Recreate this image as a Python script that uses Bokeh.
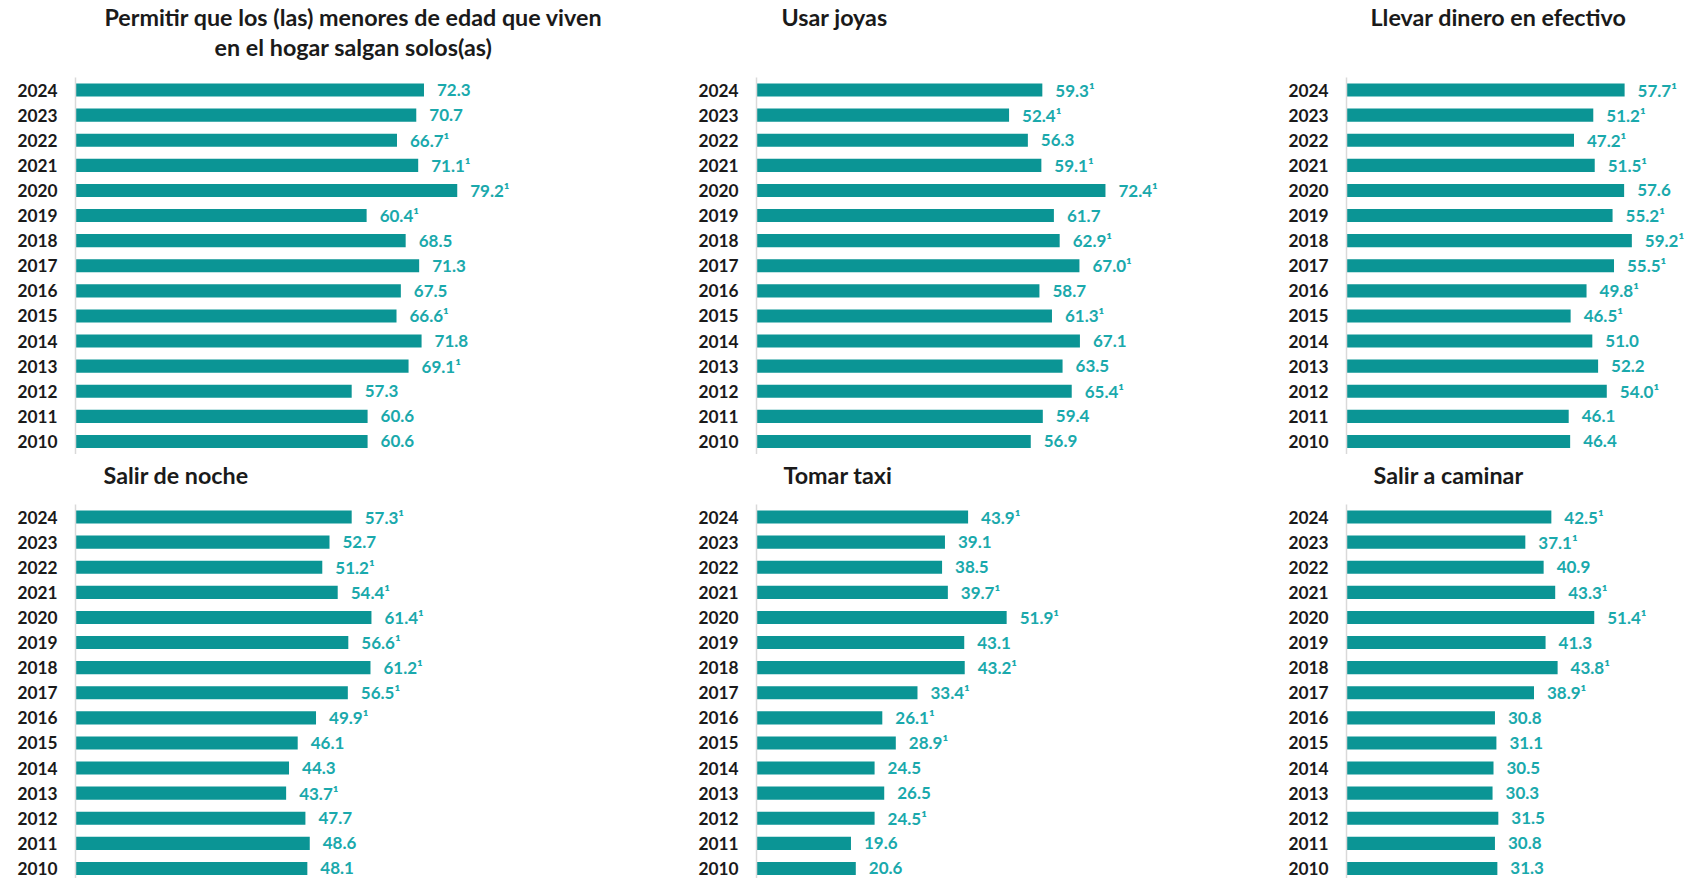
from bokeh.plotting import figure
from bokeh.models import Range1d, FixedTicker, ColumnDataSource, LabelSet
from bokeh.layouts import column, row
from bokeh.core.properties import value
from bokeh.embed import file_html
from bokeh.resources import INLINE

# ---------------- data ----------------
YEARS = [2024, 2023, 2022, 2021, 2020, 2019, 2018, 2017, 2016, 2015, 2014, 2013, 2012, 2011, 2010]

P1_TITLE = ["Permitir que los (las) menores de edad que viven", "en el hogar salgan solos(as)"]
P1_VALUES = [72.3, 70.7, 66.7, 71.1, 79.2, 60.4, 68.5, 71.3, 67.5, 66.6, 71.8, 69.1, 57.3, 60.6, 60.6]
P1_NOTES = [0, 0, 1, 1, 1, 1, 0, 0, 0, 1, 0, 1, 0, 0, 0]

P2_TITLE = ["Usar joyas"]
P2_VALUES = [59.3, 52.4, 56.3, 59.1, 72.4, 61.7, 62.9, 67.0, 58.7, 61.3, 67.1, 63.5, 65.4, 59.4, 56.9]
P2_NOTES = [1, 1, 0, 1, 1, 0, 1, 1, 0, 1, 0, 0, 1, 0, 0]

P3_TITLE = ["Llevar dinero en efectivo"]
P3_VALUES = [57.7, 51.2, 47.2, 51.5, 57.6, 55.2, 59.2, 55.5, 49.8, 46.5, 51.0, 52.2, 54.0, 46.1, 46.4]
P3_NOTES = [1, 1, 1, 1, 0, 1, 1, 1, 1, 1, 0, 0, 1, 0, 0]

P4_TITLE = ["Salir de noche"]
P4_VALUES = [57.3, 52.7, 51.2, 54.4, 61.4, 56.6, 61.2, 56.5, 49.9, 46.1, 44.3, 43.7, 47.7, 48.6, 48.1]
P4_NOTES = [1, 0, 1, 1, 1, 1, 1, 1, 1, 0, 0, 1, 0, 0, 0]

P5_TITLE = ["Tomar taxi"]
P5_VALUES = [43.9, 39.1, 38.5, 39.7, 51.9, 43.1, 43.2, 33.4, 26.1, 28.9, 24.5, 26.5, 24.5, 19.6, 20.6]
P5_NOTES = [1, 0, 0, 1, 1, 0, 1, 1, 1, 1, 0, 0, 1, 0, 0]

P6_TITLE = ["Salir a caminar"]
P6_VALUES = [42.5, 37.1, 40.9, 43.3, 51.4, 41.3, 43.8, 38.9, 30.8, 31.1, 30.5, 30.3, 31.5, 30.8, 31.3]
P6_NOTES = [1, 1, 0, 1, 1, 0, 1, 1, 0, 0, 0, 0, 0, 0, 0]

# ---------------- style ----------------
BAR = "#0B9595"
VALUE_COLOR = "#1AA9AC"
TEXT = "#1A1A1A"
AXIS = "#D9D9D9"
FONT = "Lato"
PX_PER_UNIT = 4.82
STEP = 25.1


def title_fig(width, height, lines, align, xs, ys):
    p = figure(width=width, height=height,
               x_range=Range1d(0, width), y_range=Range1d(height, 0),
               x_axis_location=None, y_axis_location=None, title=None,
               min_border_left=0, min_border_right=0, min_border_top=0, min_border_bottom=0,
               output_backend="svg", toolbar_location=None, tools="")
    p.outline_line_color = None
    p.grid.visible = False
    p.text(x=xs, y=ys, text=lines, text_align=align, text_baseline="middle",
           text_font=value(FONT), text_font_style="bold", text_font_size="23.3px",
           text_color=TEXT)
    return p


def chart_fig(values, notes, fig_width, label_w, frame_h):
    frame_w = fig_width - label_w
    top_val = 2024.5
    bottom_val = top_val - frame_h / STEP
    p = figure(frame_width=frame_w, frame_height=frame_h,
               min_border_left=label_w, min_border_right=0,
               min_border_top=0, min_border_bottom=0,
               x_range=Range1d(0, frame_w / PX_PER_UNIT),
               y_range=Range1d(bottom_val, top_val),
               x_axis_location=None, title=None,
               output_backend="svg", toolbar_location=None, tools="")
    p.outline_line_color = None
    p.grid.visible = False

    labels = [f"{v:.1f}" + ("\u00b9" if n else "") for v, n in zip(values, notes)]
    src = ColumnDataSource(dict(year=YEARS, value=values, label=labels))
    p.hbar(y="year", left=0, right="value", height=0.52, source=src,
           fill_color=BAR, line_color=None)
    p.add_layout(LabelSet(x="value", y="year", text="label", source=src,
                          x_offset=13, text_baseline="middle", text_align="left",
                          text_font=value(FONT), text_font_style="bold",
                          text_font_size="17px", text_color=VALUE_COLOR))

    ax = p.yaxis[0]
    ax.ticker = FixedTicker(ticks=YEARS)
    ax.major_tick_line_color = None
    ax.minor_tick_line_color = None
    ax.major_tick_out = 0
    ax.major_tick_in = 0
    ax.minor_tick_out = 0
    ax.axis_line_color = AXIS
    ax.axis_line_width = 1.5
    ax.major_label_standoff = 18
    ax.major_label_text_font = FONT
    ax.major_label_text_font_style = "bold"
    ax.major_label_text_font_size = "17.3px"
    ax.major_label_text_color = TEXT
    return p


# page geometry (window pixels, page starts at 0,0)
W1, W2, W3 = 640, 596, 454
L1, L2, L3 = 75, 116, 110          # space left of each axis line
H_T1, H_C1, H_T2, H_C2 = 77, 377, 50, 374

t1 = title_fig(W1, H_T1, P1_TITLE, "center", [353, 353], [16.5, 46.5])
t2 = title_fig(W2, H_T1, P2_TITLE, "left", [141], [16.5])
t3 = title_fig(W3, H_T1, P3_TITLE, "left", [134], [16.5])
c1 = chart_fig(P1_VALUES, P1_NOTES, W1, L1, H_C1)
c2 = chart_fig(P2_VALUES, P2_NOTES, W2, L2, H_C1)
c3 = chart_fig(P3_VALUES, P3_NOTES, W3, L3, H_C1)
t4 = title_fig(W1, H_T2, P4_TITLE, "left", [103], [20.5])
t5 = title_fig(W2, H_T2, P5_TITLE, "left", [143], [20.5])
t6 = title_fig(W3, H_T2, P6_TITLE, "left", [137], [20.5])
c4 = chart_fig(P4_VALUES, P4_NOTES, W1, L1, H_C2)
c5 = chart_fig(P5_VALUES, P5_NOTES, W2, L2, H_C2)
c6 = chart_fig(P6_VALUES, P6_NOTES, W3, L3, H_C2)

layout = column(row(t1, t2, t3, spacing=0), row(c1, c2, c3, spacing=0),
                row(t4, t5, t6, spacing=0), row(c4, c5, c6, spacing=0), spacing=0)

with open("out.html", "w") as f:
    f.write(file_html(layout, INLINE))
